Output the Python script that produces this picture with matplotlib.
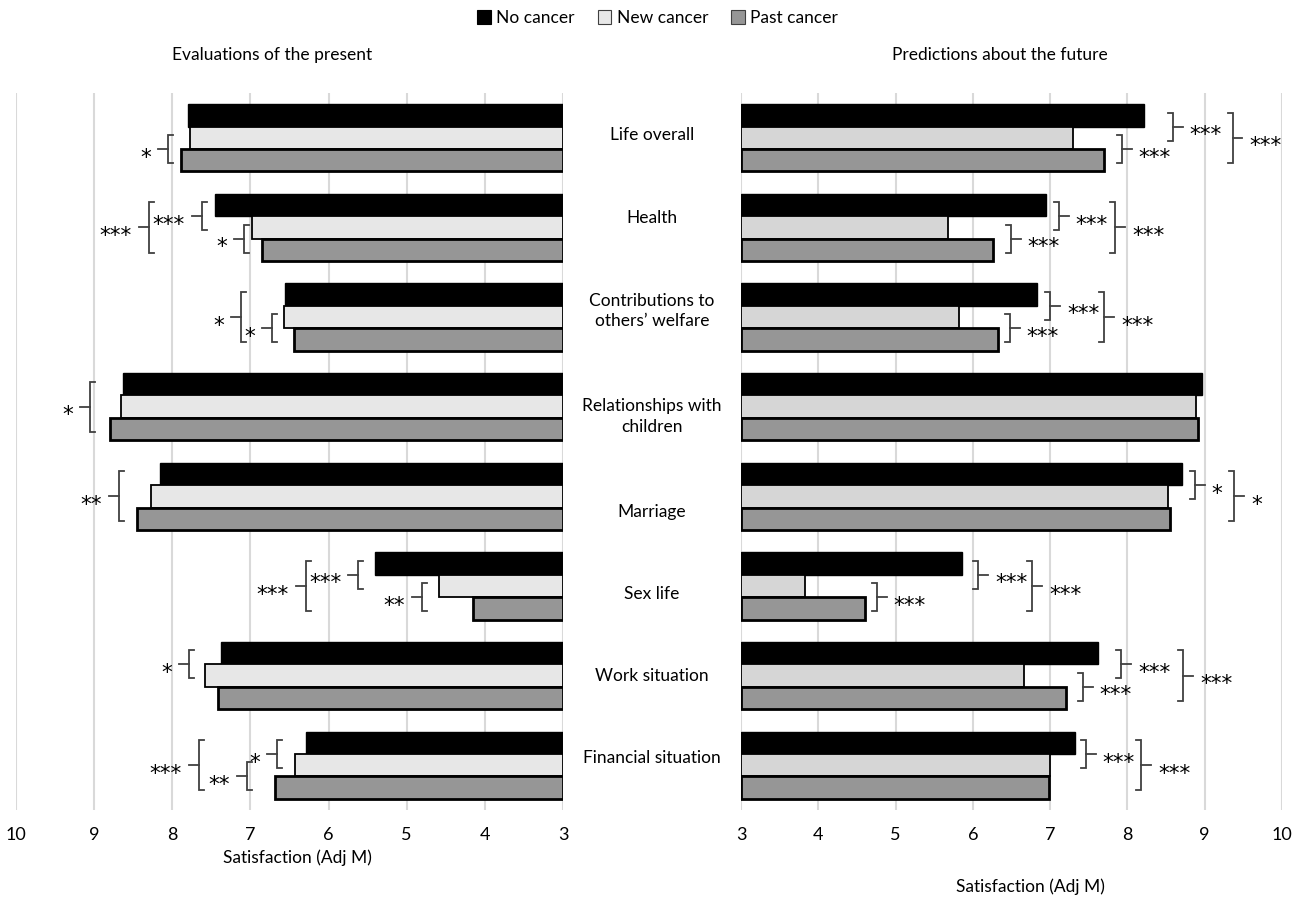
import matplotlib
matplotlib.use("Agg")
import matplotlib.pyplot as plt
from matplotlib.patches import Patch
from matplotlib.transforms import blended_transform_factory
import numpy as np

plt.rcParams['font.family'] = ['Lato', 'DejaVu Sans']

# ---------------- data ----------------
categories = ["Life overall", "Health", "Contributions to\nothers\u2019 welfare",
              "Relationships with\nchildren", "Marriage", "Sex life",
              "Work situation", "Financial situation"]
series_names = ["No cancer", "New cancer", "Past cancer"]

present_no = [7.80, 7.45, 6.56, 8.63, 8.16, 5.41, 7.38, 6.29]
present_new = [7.77, 6.98, 6.57, 8.66, 8.27, 4.59, 7.58, 6.43]
present_past = [7.89, 6.85, 6.44, 8.80, 8.45, 4.15, 7.41, 6.69]

future_no = [8.22, 6.94, 6.83, 8.97, 8.70, 5.86, 7.62, 7.32]
future_new = [7.30, 5.68, 5.82, 8.89, 8.52, 3.83, 6.66, 7.00]
future_past = [7.70, 6.26, 6.33, 8.91, 8.55, 4.61, 7.21, 6.98]

ticks = [3, 4, 5, 6, 7, 8, 9, 10]

# significance brackets: (category index, from bar, to bar, x position, label)
present_sig = [
    (0, 1, 2, 8.05, "*"),
    (1, 0, 2, 8.30, "***"), (1, 0, 1, 7.62, "***"), (1, 1, 2, 7.08, "*"),
    (2, 0, 2, 7.12, "*"), (2, 1, 2, 6.72, "*"),
    (3, 0, 2, 9.05, "*"),
    (4, 0, 2, 8.68, "**"),
    (5, 0, 2, 6.29, "***"), (5, 0, 1, 5.62, "***"), (5, 1, 2, 4.80, "**"),
    (6, 0, 1, 7.79, "*"),
    (7, 0, 2, 7.66, "***"), (7, 0, 1, 6.66, "*"), (7, 1, 2, 7.05, "**"),
]
future_sig = [
    (0, 0, 1, 8.59, "***"), (0, 1, 2, 7.93, "***"), (0, 0, 2, 9.36, "***"),
    (1, 0, 1, 7.11, "***"), (1, 1, 2, 6.49, "***"), (1, 0, 2, 7.84, "***"),
    (2, 0, 1, 7.00, "***"), (2, 1, 2, 6.48, "***"), (2, 0, 2, 7.70, "***"),
    (4, 0, 1, 8.87, "*"), (4, 0, 2, 9.38, "*"),
    (5, 0, 1, 6.07, "***"), (5, 1, 2, 4.76, "***"), (5, 0, 2, 6.77, "***"),
    (6, 0, 1, 7.92, "***"), (6, 1, 2, 7.42, "***"), (6, 0, 2, 8.72, "***"),
    (7, 0, 1, 7.46, "***"), (7, 0, 2, 8.18, "***"),
]

# small vertical nudges of the centre labels (layout only)
label_nudge = [-0.03, -0.11, -0.07, 0.11, 0.18, 0.09, 0.01, -0.08]

# ---------------- figure ----------------
W, H = 1302, 900
fig = plt.figure(figsize=(W / 100, H / 100), dpi=100)

top_px, bot_px = 93, 810
axL = fig.add_axes([16 / W, 1 - bot_px / H, (563 - 16) / W, (bot_px - top_px) / H])
axR = fig.add_axes([741 / W, 1 - bot_px / H, (1282 - 741) / W, (bot_px - top_px) / H])

bar_h = 0.25
y = np.arange(len(categories))
FS = 12.5


def draw_panel(ax, vals, new_color, inverted):
    base = 3
    styles = [
        dict(color="black", edgecolor="black", linewidth=1.0),
        dict(color=new_color, edgecolor="black", linewidth=1.3),
        dict(color="#969696", edgecolor="black", linewidth=2.0),
    ]
    for k, (v, st) in enumerate(zip(vals, styles)):
        v = np.asarray(v)
        ax.barh(y + (k - 1) * bar_h, v - base, left=base, height=bar_h, zorder=3, **st)
    if inverted:
        ax.set_xlim(10, 3)
    else:
        ax.set_xlim(3, 10)
    ax.set_ylim(len(categories) - 0.5, -0.5)
    ax.set_xticks(ticks)
    ax.set_xticklabels([str(t) for t in ticks], fontsize=13)
    ax.tick_params(axis="x", length=0, pad=12)
    ax.set_yticks([])
    ax.grid(axis="x", color="#d9d9d9", linewidth=1.5, zorder=0)
    for s in ax.spines.values():
        s.set_visible(False)


draw_panel(axL, [present_no, present_new, present_past], "#e7e7e7", True)
draw_panel(axR, [future_no, future_new, future_past], "#d6d6d6", False)


def draw_brackets(ax, specs, inverted):
    unit_px = 78.0
    tick = 5 / unit_px
    stub = 10 / unit_px
    gap = 7 / unit_px
    for g, a, b, xv, lab in specs:
        y0 = g + (a - 1) * bar_h - 0.03
        y1 = g + (b - 1) * bar_h + 0.03
        ym = (y0 + y1) / 2
        ax.plot([xv - tick, xv, xv, xv - tick], [y0, y0, y1, y1],
                color="#404040", lw=1.3, zorder=4, clip_on=False,
                solid_joinstyle="miter")
        ax.plot([xv, xv + stub], [ym, ym], color="#404040", lw=1.3, zorder=4,
                clip_on=False)
        ax.annotate(lab, xy=(xv + stub + gap, ym), xytext=(0, -10.5),
                    textcoords="offset points",
                    ha="right" if inverted else "left", va="baseline",
                    fontsize=15.5, family="DejaVu Sans", annotation_clip=False)


draw_brackets(axL, present_sig, True)
draw_brackets(axR, future_sig, False)

# category labels in the middle
tr = blended_transform_factory(fig.transFigure, axL.transData)
for i, (c, n) in enumerate(zip(categories, label_nudge)):
    fig.text(652 / W, i + n, c, transform=tr, ha="center", va="center",
             fontsize=FS, linespacing=1.35)

# titles and axis labels
fig.text(272 / W, 1 - 55 / H, "Evaluations of the present", ha="center", va="center", fontsize=FS)
fig.text(1000 / W, 1 - 55 / H, "Predictions about the future", ha="center", va="center", fontsize=FS)
fig.text(297 / W, 1 - 858 / H, "Satisfaction (Adj M)", ha="center", va="center", fontsize=FS)
fig.text(1030 / W, 1 - 887 / H, "Satisfaction (Adj M)", ha="center", va="center", fontsize=FS)

# legend
handles = [
    Patch(facecolor="black", edgecolor="black", linewidth=0.8),
    Patch(facecolor="#e8e8e8", edgecolor="#404040", linewidth=0.8),
    Patch(facecolor="#969696", edgecolor="#404040", linewidth=0.8),
]
fig.legend(handles, series_names, loc="center", bbox_to_anchor=(0.505, 1 - 18 / H),
           ncol=3, frameon=False, fontsize=FS, handlelength=0.8, handleheight=0.8,
           handletextpad=0.3, columnspacing=1.3, borderpad=0)

fig.savefig("out.png", dpi=100)
